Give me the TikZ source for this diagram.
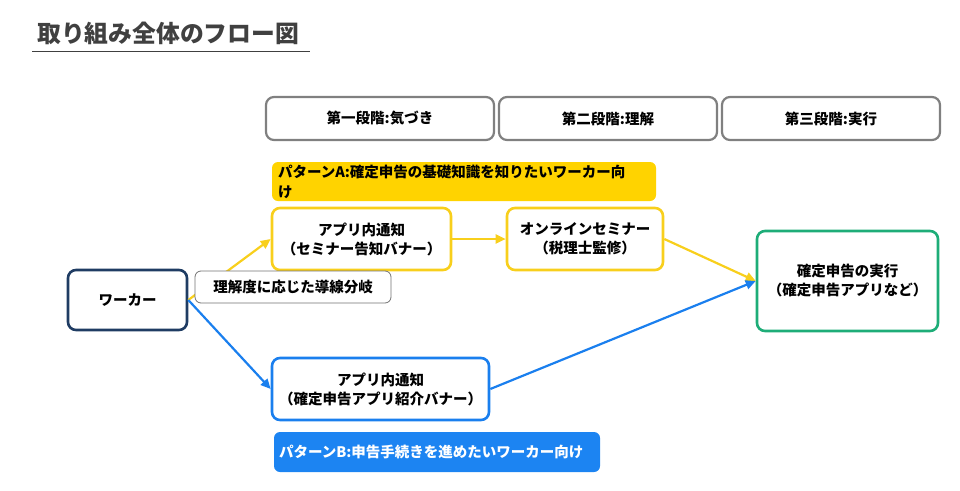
\documentclass[tikz,border=0pt]{standalone}
\usepackage{fontspec}
\setmainfont{Noto Sans CJK JP}
\usetikzlibrary{arrows.meta}
\definecolor{titlegray}{HTML}{404040}
\definecolor{stagegray}{HTML}{808080}
\definecolor{ylw}{HTML}{F8CF1C}
\definecolor{ylwfill}{HTML}{FFD300}
\definecolor{blu}{HTML}{1A7FEE}
\definecolor{blufill}{HTML}{1C84F2}
\definecolor{grn}{HTML}{1EAD78}
\definecolor{navy}{HTML}{1F3C63}
\tikzset{
  box/.style={draw, rounded corners=8pt, fill=white, inner sep=0pt, align=center,
    font=\fontsize{14.5}{19}\selectfont\bfseries, text=black},
  stagebox/.style={box, draw=stagegray, line width=2.2pt, minimum height=43pt},
  ybox/.style={box, draw=ylw, line width=2.6pt, minimum height=62pt},
  bbox/.style={box, draw=blu, line width=2.6pt, minimum height=62pt},
  label/.style={rounded corners=6pt, inner sep=0pt, font=\fontsize{14.5}{20}\selectfont\bfseries},
  conn/.style={line width=2.2pt, -{Triangle[length=10pt,width=9pt]}},
}
\begin{document}
\begin{tikzpicture}[x=1pt,y=-1pt]
\useasboundingbox (0,0) rectangle (960,490);
% title
\node[anchor=west, inner sep=0pt, text=titlegray, font=\fontsize{23.8}{26}\selectfont\bfseries] (title) at (37,33) {取り組み全体のフロー図};
\coordinate (ul1) at (32,51);
\coordinate (ul2) at (310,51);
\draw[titlegray, line width=0.9pt] (ul1) -- (ul2);
% stages
\node[stagebox, minimum width=228pt] (s1) at (380,118.5) {第一段階:気づき};
\node[stagebox, minimum width=218pt] (s2) at (608,118.5) {第二段階:理解};
\node[stagebox, minimum width=218pt] (s3) at (831,118.5) {第三段階:実行};
% pattern A
\node[label, fill=ylwfill, minimum width=384pt, minimum height=39pt, text width=372pt, align=left] (pA) at (464,181.5) {パターンA:確定申告の基礎知識を知りたいワーカー向\\け};
% nodes
\node[ybox, minimum width=179pt] (y1) at (361.5,239) {アプリ内通知\\（セミナー告知バナー）};
\node[ybox, minimum width=156pt] (y2) at (585,239) {オンラインセミナー\\（税理士監修）};
\node[box, draw=navy, line width=2.6pt, minimum width=119pt, minimum height=60pt] (worker) at (127.5,300) {ワーカー};
\node[box, draw=grn, line width=2.6pt, minimum width=181pt, minimum height=100pt] (final) at (847.5,281) {確定申告の実行\\（確定申告アプリなど）};
\node[bbox, minimum width=217pt] (b1) at (380.5,389) {アプリ内通知\\（確定申告アプリ紹介バナー）};
% pattern B
\node[label, fill=blufill, text=white, minimum width=326pt, minimum height=40pt, text width=316pt, align=left] (pB) at (437,452) {パターンB:申告手続きを進めたいワーカー向け};
% connectors
\draw[conn, ylw] (worker.east) -- (y1.west);
\draw[conn, blu] (worker.east) -- (b1.west);
\draw[conn, ylw] (y1.east) -- (y2.west);
\draw[conn, ylw] (y2.east) -- (final.west);
\draw[conn, blu] (b1.east) -- (final.west);
% branch label
\node[box, draw=stagegray!90!black, line width=0.8pt, rounded corners=6pt, minimum width=196pt, minimum height=32pt] (branch) at (293,287) {理解度に応じた導線分岐};
\end{tikzpicture}
\end{document}
